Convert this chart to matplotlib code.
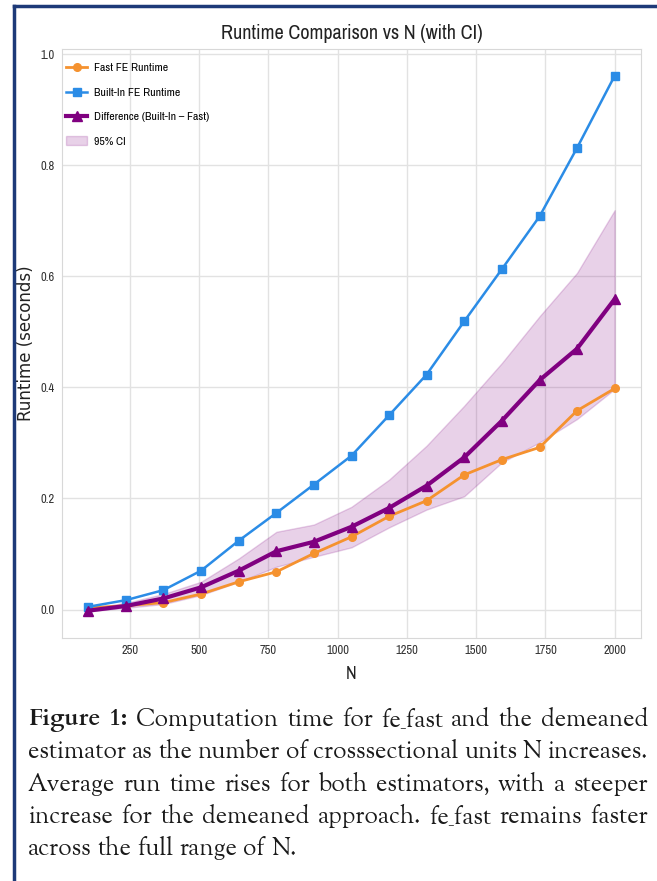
import matplotlib
matplotlib.use('Agg')
import matplotlib.pyplot as plt
from matplotlib.lines import Line2D

# values
n_values = [100, 236, 371, 507, 643, 779, 914, 1050, 1186, 1321, 1457, 1593, 1729, 1864, 2000]
fast_runtime = [0.003, 0.007, 0.0125, 0.028, 0.050, 0.068, 0.101, 0.131, 0.168, 0.196, 0.2425, 0.270, 0.292, 0.358, 0.398]
builtin_runtime = [0.005, 0.017, 0.035, 0.070, 0.124, 0.174, 0.225, 0.277, 0.350, 0.423, 0.519, 0.613, 0.708, 0.831, 0.961]
difference = [-0.002, 0.0065, 0.020, 0.040, 0.070, 0.105, 0.122, 0.149, 0.183, 0.223, 0.274, 0.340, 0.413, 0.4695, 0.559]
ci_lower = [-0.003, 0.003, 0.010, 0.026, 0.050, 0.077, 0.095, 0.112, 0.148, 0.180, 0.204, 0.265, 0.301, 0.343, 0.397]
ci_upper = [0.002, 0.012, 0.028, 0.050, 0.092, 0.140, 0.153, 0.185, 0.234, 0.295, 0.367, 0.444, 0.528, 0.606, 0.719]

caption_lines = [
    "Figure 1: Computation time for fe_fast and the demeaned",
    "estimator as the number of crosssectional units N increases.",
    "Average run time rises for both estimators, with a steeper",
    "increase for the demeaned approach. fe_fast remains faster",
    "across the full range of N.",
]

plt.rcParams['font.family'] = ['Archivo Narrow', 'Liberation Sans', 'DejaVu Sans']

W, H = 657, 881
fig = plt.figure(figsize=(W / 100, H / 100), dpi=100)
fig.patch.set_facecolor('white')
ax = fig.add_axes([62 / W, 1 - 638 / H, (641 - 62) / W, (638 - 49) / H])

ax.fill_between(n_values, ci_lower, ci_upper, color='#800080', alpha=0.18,
                linewidth=1, label='95% CI', zorder=1)
ax.plot(n_values, fast_runtime, color='#f5922f', marker='o', markersize=5.5,
        linewidth=2, label='Fast FE Runtime', zorder=3)
ax.plot(n_values, builtin_runtime, color='#2b8ce6', marker='s', markersize=5.5,
        linewidth=1.8, label='Built-In FE Runtime', zorder=3)
ax.plot(n_values, difference, color='#800080', marker='^', markersize=6.5,
        linewidth=3, label='Difference (Built-In \u2013 Fast)', zorder=4)

ax.set_xticks([250, 500, 750, 1000, 1250, 1500, 1750, 2000])
ax.set_yticks([0.0, 0.2, 0.4, 0.6, 0.8, 1.0])
ax.set_yticklabels(['0.0', '0.2', '0.4', '0.6', '0.8', '1.0'])
ax.tick_params(axis='both', length=0, labelsize=9, colors='#333333', pad=5)
ax.grid(True, color='#e2e2e2', linewidth=1)
ax.set_axisbelow(True)
for s in ax.spines.values():
    s.set_color('#d8d8d8')

ax.set_title('Runtime Comparison vs N (with CI)', fontsize=14.5, color='#222222', pad=7)
ax.set_xlabel('N', fontsize=13, color='#222222', labelpad=7)
ax.set_ylabel('Runtime (seconds)', fontsize=12, color='#222222', family='DejaVu Sans')
ax.yaxis.set_label_coords(-0.047, 0.5)

handles, labels = ax.get_legend_handles_labels()
order = [1, 2, 3, 0]
ax.legend([handles[i] for i in order], [labels[i] for i in order], loc='upper left',
          bbox_to_anchor=(-10 / 579, 1), frameon=False, fontsize=8.5,
          handlelength=1.8, handletextpad=0.6, labelspacing=1.2, borderaxespad=0.8)

# navy border on top and left side
fig.add_artist(Line2D([14 / W, 14 / W], [0, 1 - 6 / H], color='#1d3a78', linewidth=2.5))
fig.add_artist(Line2D([14 / W, 1], [1 - 6 / H, 1 - 6 / H], color='#1d3a78', linewidth=2.5))

# justified caption
renderer = fig.canvas.get_renderer()
x0, x1 = 28, 648
line_y = [719, 751, 784, 816, 848]
for i, line in enumerate(caption_lines):
    words = line.split(' ')
    texts = []
    for j, w in enumerate(words):
        bold = (i == 0 and j < 2)
        fam = ['Cardo', 'Liberation Serif'] if bold else ['Sorts Mill Goudy', 'Liberation Serif']
        t = fig.text(0, 1 - line_y[i] / H, w, fontsize=17.5, va='center', ha='left',
                     family=fam, fontweight='bold' if bold else 'normal',
                     color='#1a1a1a')
        texts.append(t)
    widths = [t.get_window_extent(renderer).width for t in texts]
    if i < len(caption_lines) - 1:
        gap = (x1 - x0 - sum(widths)) / (len(words) - 1)
    else:
        gap = 6
    x = x0
    for t, w in zip(texts, widths):
        t.set_x(x / W)
        x += w + gap

fig.savefig('out.png', dpi=100)
